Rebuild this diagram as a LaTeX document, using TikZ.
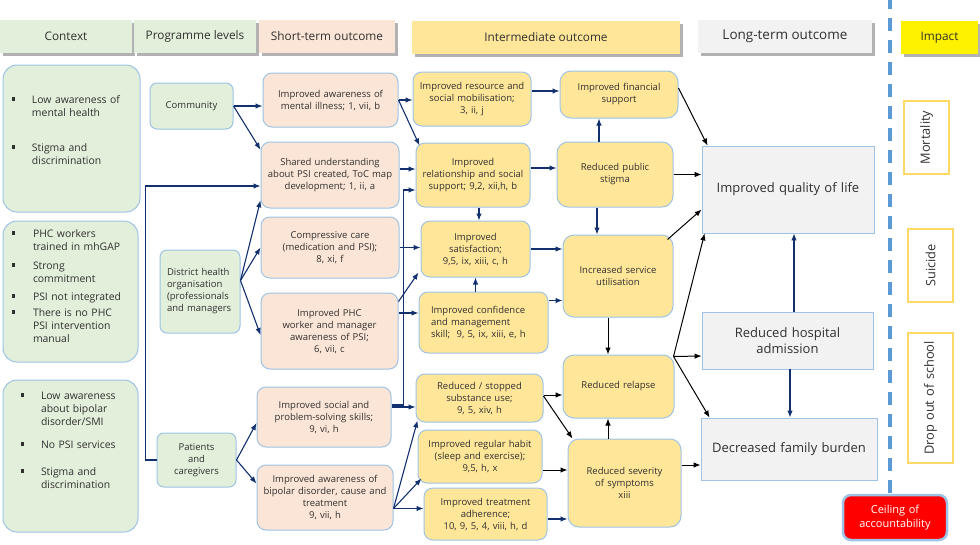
\documentclass[tikz,border=0pt]{standalone}
\usepackage{fontspec}
\setmainfont{Open Sans}
\usetikzlibrary{arrows.meta,shadows}

\definecolor{ctxgreen}{HTML}{E2EFDA}
\definecolor{stpeach}{HTML}{FBE5D6}
\definecolor{imyellow}{HTML}{FFE699}
\definecolor{ltgray}{HTML}{F2F2F2}
\definecolor{edgeblue}{HTML}{9DC3E6}
\definecolor{navy}{HTML}{12306E}
\definecolor{impborder}{HTML}{FFD966}
\definecolor{dashblue}{HTML}{5B9BD5}
\definecolor{txt}{HTML}{303030}

\newcommand{\bul}{\rule[2.5pt]{3.5pt}{3.5pt}}

\begin{document}
\begin{tikzpicture}[x=1pt, y=-1pt, font=\fontsize{9.5}{12}\selectfont, text=txt,
  hdrbox/.style 2 args={fill=#1, minimum width=#2, minimum height=33, inner sep=0pt,
    drop shadow={shadow xshift=2.5pt, shadow yshift=-2.5pt, fill=black!30, opacity=1},
    font=\fontsize{11.8}{14}\selectfont},
  sized/.style 2 args={minimum width=#1, minimum height=#2, text width=#1-8, inner sep=0pt, align=center},
  ctxbox/.style={draw=edgeblue, line width=1pt, fill=ctxgreen, rounded corners=14pt, align=left,
    font=\fontsize{10.4}{13}\selectfont},
  lvlbox/.style={draw=edgeblue, line width=1pt, fill=ctxgreen, rounded corners=7pt},
  stbox/.style={draw=edgeblue, line width=1pt, fill=stpeach, rounded corners=9pt},
  imbox/.style={draw=edgeblue, line width=1pt, fill=imyellow, rounded corners=9pt},
  ltbox/.style={draw=edgeblue, line width=0.8pt, fill=ltgray, font=\fontsize{13}{16.5}\selectfont},
  impbox/.style={draw=impborder, line width=1.2pt, rotate=90, font=\fontsize{12.8}{15}\selectfont},
  navarrow/.style={navy, line width=1.1pt, -{Latex[length=7pt,width=5.5pt]}},
  blkarrow/.style={black, line width=1pt, -{Latex[length=7pt,width=5.5pt]}},
]
\useasboundingbox (0,0) rectangle (980,544);

% column headers
\node[hdrbox={ctxgreen}{132}] (hC) at (66,36.5) {Context};
\node[hdrbox={ctxgreen}{122}] (hP) at (195,36.5) {Programme levels};
\node[hdrbox={stpeach}{136}] (hS) at (327,36.5) {Short-term outcome};
\node[hdrbox={imyellow}{268}] (hI) at (546,37.5) {Intermediate outcome};
\node[hdrbox={ltgray}{174}, font=\fontsize{13.5}{16}\selectfont] (hL) at (785,36.5) {Long-term outcome};
\node[hdrbox={yellow}{77}] (hImp) at (939.5,37.5) {Impact};

% boundary of the programme
\draw[dashblue, line width=3.5pt, dash pattern=on 13pt off 9pt] (890,-4) -- (890,548);

% context
\node[sized={137}{147}, ctxbox, text width=119] (c1) at (71.5,138.5) {%
  \begin{tabular}{@{}l@{\hspace{16.5pt}}l@{}}
  \bul & Low awareness of\\ & mental health\\[22pt]
  \bul & Stigma and\\ & discrimination\\[15pt]
  \end{tabular}};
\node[sized={135}{141}, ctxbox, text width=117] (c2) at (70.5,291.5) {%
  \begin{tabular}{@{}l@{\hspace{17.5pt}}l@{}}
  \bul & PHC workers\\ & trained in mhGAP\\[6pt]
  \bul & Strong\\ & commitment\\[5pt]
  \bul & PSI not integrated\\[3pt]
  \bul & There is no PHC\\ & PSI intervention\\ & manual\\[9pt]
  \end{tabular}};
\node[sized={135}{152}, ctxbox, text width=117] (c3) at (70.5,456) {%
  \hspace*{9pt}\begin{tabular}{@{}l@{\hspace{16.5pt}}l@{}}
  \bul & Low awareness\\ & about bipolar\\ & disorder/SMI\\[10pt]
  \bul & No PSI services\\[14pt]
  \bul & Stigma and\\ & discrimination\\[30pt]
  \end{tabular}};

% programme levels
\node[sized={83}{46}, lvlbox] (lvC) at (191.5,106) {Community};
\node[sized={80}{83}, lvlbox, align=left, text width=66] (lvD) at (200,291.5)
  {District health\\organisation\\(professionals\\and managers};
\node[sized={79}{54}, lvlbox] (lvP) at (196.5,460) {Patients\\and\\caregivers};

% short-term outcomes
\node[sized={135}{54}, stbox] (s1) at (330.5,100) {Improved awareness of\\mental illness; 1, vii, b};
\node[sized={138}{66}, stbox] (s2) at (330,175)
  {Shared understanding\\about PSI created, ToC map\\development; 1, ii, a};
\node[sized={138}{61}, stbox] (s3) at (330,247.5) {Compressive care\\(medication and PSI);\\8, xi, f};
\node[sized={137}{76}, stbox] (s4) at (329.5,331)
  {Improved PHC\\worker and manager\\awareness of PSI;\\6, vii, c};
\node[sized={134}{60}, stbox] (s5) at (324,417) {Improved social and\\problem-solving skills;\\9, vi, h};
\node[sized={136}{65}, stbox] (s6) at (325,497.5)
  {Improved awareness of\\bipolar disorder, cause and\\treatment\\9, vii, h};

% intermediate outcomes
\node[sized={118}{54}, imbox] (i1) at (472,99) {Improved resource and\\social mobilisation;\\3, ii, j};
\node[sized={114}{64}, imbox] (i2) at (473,175) {Improved\\relationship and social\\support; 9,2, xii,h, b};
\node[sized={109}{56}, imbox] (i3) at (475.5,249) {Improved\\satisfaction;\\9,5, ix, xiii, c, h};
\node[sized={129}{61}, imbox, align=left, text width=105] (i4) at (483.5,322.5)
  {Improved confidence\\and management\\skill;~ 9, 5, ix, xiii, e, h};
\node[sized={127}{48}, imbox] (i5) at (479.5,398) {Reduced / stopped\\substance use;\\9, 5, xiv, h};
\node[sized={124}{53}, imbox] (i6) at (480,456.5) {Improved regular habit\\(sleep and exercise);\\9,5, h, x};
\node[sized={123}{52}, imbox] (i7) at (485.5,514) {Improved treatment\\adherence;\\10, 9, 5, 4, viii, h, d};

\node[sized={118}{47}, imbox, rounded corners=11pt] (j1) at (619,94.5) {Improved financial\\support\\[5pt]};
\node[sized={116}{65}, imbox, rounded corners=11pt] (j2) at (615,174.5) {Reduced public\\stigma};
\node[sized={110}{82}, imbox, rounded corners=11pt] (j3) at (618,276) {Increased service\\utilisation};
\node[sized={111}{63}, imbox, rounded corners=11pt] (j4) at (618.5,386.5) {Reduced relapse};
\node[sized={113}{88}, imbox, rounded corners=11pt] (j5) at (624.5,483) {Reduced severity\\of symptoms\\xiii\\[4pt]};

% long-term outcomes
\node[sized={172}{87}, ltbox] (l1) at (788,189.5) {Improved quality of life};
\node[sized={171}{57}, ltbox] (l2) at (787.5,340.5) {Reduced hospital\\admission};
\node[sized={176}{62}, ltbox] (l3) at (789,449) {Decreased family burden};

% impact
\node[sized={73}{45}, impbox] (m1) at (926.5,137.5) {Mortality};
\node[sized={73}{45}, impbox] (m2) at (930.5,265.5) {Suicide};
\node[sized={130}{45}, impbox] (m3) at (930.5,398) {Drop out of school};
\node[sized={104}{45}, fill=red, draw=edgeblue, line width=2.5pt, rounded corners=8pt, text=white,
  font=\fontsize{11}{14}\selectfont] (ceil) at (895,517.5) {Ceiling of\\accountability};

% programme levels -> short-term
\draw[navarrow] (lvC.east) -- (lvC.east -| s1.west);
\draw[navarrow] (lvC.east) -- (s2.160);
\draw[navarrow] (lvP.west) -- ++(-11,0) |- ([yshift=-11pt]s2.west);
\coordinate (dF) at ([yshift=11pt]lvD.east);
\draw[navarrow] (dF) -- (s2.200);
\draw[navarrow] (dF) -- (s3.west);
\draw[navarrow] (dF) -- ([yshift=-4pt]s4.west);
\draw[navarrow] (lvP.east) -- ([yshift=-6pt]s5.west);
\draw[navarrow] (lvP.east) -- ([yshift=14pt]s6.west);

% short-term -> intermediate
\draw[navarrow] (s1.east) -- (s1.east -| i1.west);
\draw[navarrow] (s1.east) -- ([xshift=4pt,yshift=-3pt]i2.north west);
\draw[navarrow] ([yshift=6pt]s2.east) -- ([yshift=6pt]s2.east -| i2.west);
\draw[navarrow] (s3.east) -- (s3.east -| i3.west);
\draw[navarrow] ([yshift=-9pt]s4.north east) -- ([xshift=-2pt,yshift=5pt]i3.south west);
\draw[navarrow] ([yshift=18pt]s4.east) -- ([yshift=18pt]s4.east -| i4.west);
\draw[navarrow] ([yshift=12pt]s5.east) -- ++(12,0) |- ([yshift=-15pt]i2.west);
\draw[navarrow] ([yshift=10pt]s5.east) -- ([yshift=10pt]s5.east -| i5.west);
\coordinate (sF) at ([yshift=-11pt]s6.east);
\draw[navarrow] (sF) -- ([xshift=2pt,yshift=2pt]i5.south west);
\draw[navarrow] (sF) -- ([xshift=4pt,yshift=5pt]i6.south west);
\draw[navarrow] (sF) -- (sF -| i7.west);

% within intermediate
\draw[navarrow] ([xshift=6pt]i2.south) -- ([xshift=6pt]i2.south |- i3.north);
\draw[navarrow] (i4.north -| i3.south) -- (i3.south);
\draw[navarrow] ([yshift=8pt]i1.east) -- ([yshift=8pt]i1.east -| j1.west);
\draw[navarrow] ([yshift=7pt]i2.east) -- ([yshift=7pt]i2.east -| j2.west);
\draw[navarrow] ([xshift=-16pt]j2.north) -- ([xshift=-16pt]j2.north |- j1.south);
\draw[navarrow] ([xshift=-18pt]j2.south) -- ([xshift=-18pt]j2.south |- j3.north);
\draw[navarrow] (i3.east) -- (i3.east -| j3.west);
\draw[navarrow] ([yshift=22pt]i4.east) -- ([yshift=22pt]i4.east -| j3.west);
\draw[blkarrow] ([xshift=-10pt]j3.south) -- ([xshift=-10pt]j3.south |- j4.north);
\draw[blkarrow] ([yshift=3pt]i5.east) -- ([yshift=3pt]i5.east -| j4.west);
\draw[blkarrow] ([yshift=2pt]i5.east) -- ([xshift=5pt]j5.north west);
\draw[blkarrow] ([yshift=-13.5pt]i6.east) -- ([yshift=-13.5pt]i6.east -| j5.west);
\draw[navarrow] ([yshift=-5pt]i7.east) -- ([yshift=-5pt]i7.east -| j5.west);
\draw[blkarrow] ([xshift=-16.5pt]j5.north) -- ([xshift=-16.5pt]j5.north |- j4.south);

% intermediate -> long-term
\draw[blkarrow] ([yshift=6.5pt]j1.east) -- ([xshift=6pt]l1.north west);
\draw[blkarrow] (j2.east) -- (j2.east -| l1.west);
\draw[blkarrow] ([xshift=-6pt,yshift=-5pt]j3.north east) -- ([yshift=-20pt]l1.west);
\coordinate (jF) at ([xshift=-1pt,yshift=-2pt]j4.north east);
\draw[blkarrow] (jF) -- ([xshift=3pt]l1.south west);
\draw[blkarrow] (jF) -- ([yshift=-15.5pt]l2.west);
\draw[blkarrow] (jF) -- ([xshift=9pt]l3.north west);
\draw[blkarrow] ([yshift=18pt]j5.east) -- ([yshift=18pt]j5.east -| l3.west);
\draw[navarrow] ([xshift=6.5pt]l2.north) -- ([xshift=6.5pt]l2.north |- l1.south);
\draw[navarrow] ([xshift=2.5pt]l2.south) -- ([xshift=2.5pt]l2.south |- l3.north);
\end{tikzpicture}
\end{document}
